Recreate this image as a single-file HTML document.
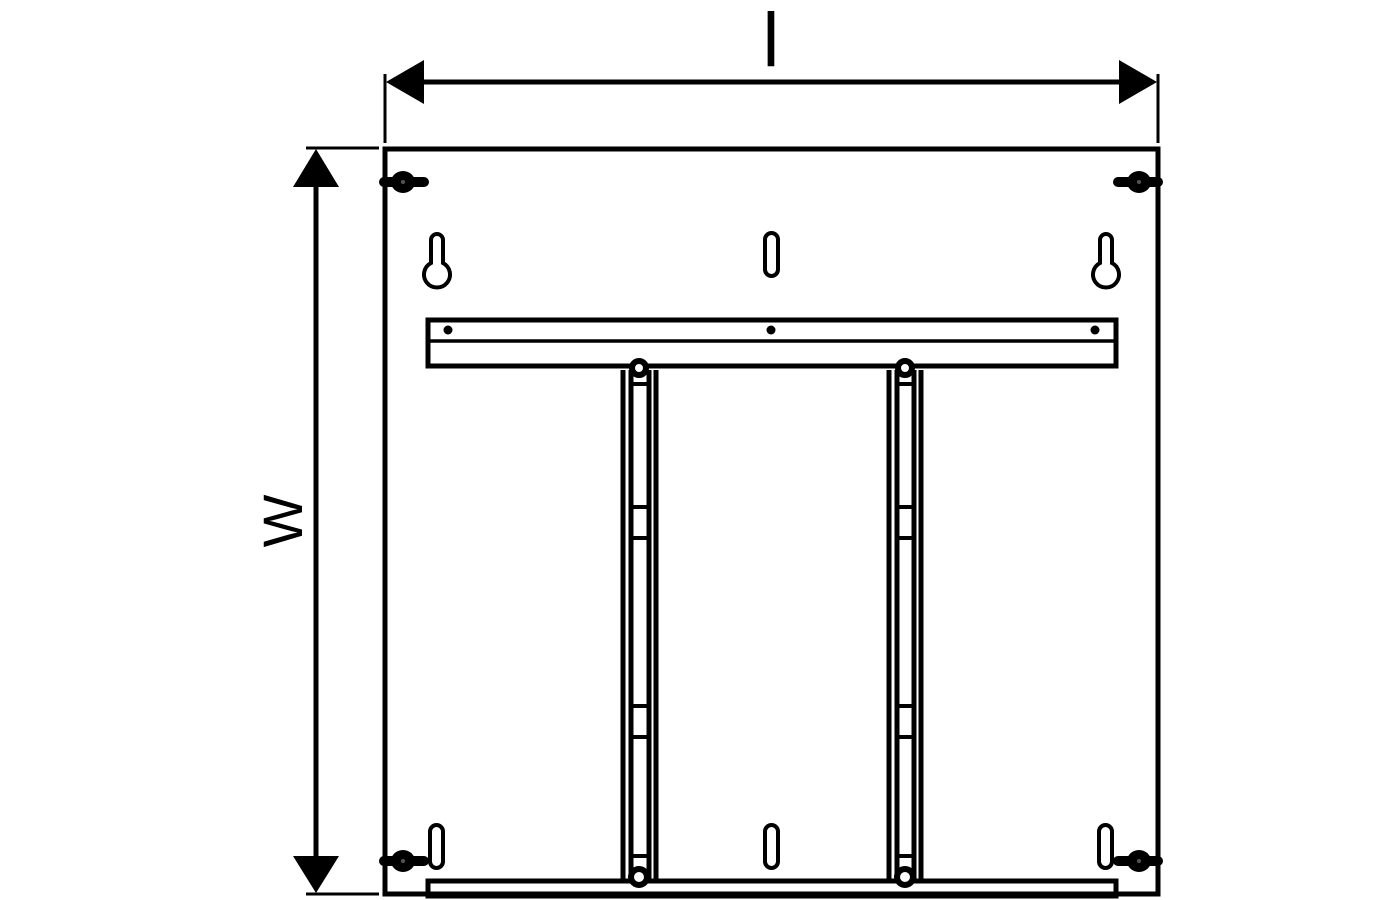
<!DOCTYPE html>
<html><head><meta charset="utf-8"><style>html,body{margin:0;padding:0;background:#fff}svg{display:block}</style></head>
<body>
<svg width="1400" height="900" viewBox="0 0 1400 900" xmlns="http://www.w3.org/2000/svg">
<g stroke="#000" fill="none" stroke-linecap="butt">
<line x1="385" y1="74" x2="385" y2="143" stroke-width="3"/>
<line x1="1158" y1="74" x2="1158" y2="143" stroke-width="3"/>
<line x1="420" y1="82" x2="1124" y2="82" stroke-width="5"/>
<polygon points="386,82 424,60 424,104" fill="#000" stroke="none"/>
<polygon points="1157,82 1119,60 1119,104" fill="#000" stroke="none"/>
<line x1="306" y1="148" x2="379" y2="148" stroke-width="3"/>
<line x1="306" y1="894" x2="379" y2="894" stroke-width="3"/>
<line x1="316" y1="180" x2="316" y2="862" stroke-width="5"/>
<polygon points="316,149 293,187 339,187" fill="#000" stroke="none"/>
<polygon points="316,893 293,856 339,856" fill="#000" stroke="none"/>
<rect x="385" y="149" width="773" height="745" stroke-width="5"/>
<rect x="428" y="320" width="688" height="46" stroke-width="5"/>
<line x1="428" y1="341" x2="1116" y2="341" stroke-width="3.5"/>
<circle cx="448" cy="330" r="4.5" fill="#000" stroke="none"/>
<circle cx="771" cy="330" r="4.5" fill="#000" stroke="none"/>
<circle cx="1095" cy="330" r="4.5" fill="#000" stroke="none"/>
<rect x="428" y="881" width="688" height="15" stroke-width="5"/>
<path d="M431,263 L431,240 A6,6 0 0 1 443,240 L443,263 A13,13 0 1 1 431,263 Z" stroke-width="4"/>
<path d="M1100,263 L1100,240 A6,6 0 0 1 1112,240 L1112,263 A13,13 0 1 1 1100,263 Z" stroke-width="4"/>
<rect x="765" y="233" width="13" height="43" rx="6.5" stroke-width="4"/>
<rect x="430" y="825" width="13" height="43" rx="6.5" stroke-width="4"/>
<rect x="765" y="825" width="13" height="43" rx="6.5" stroke-width="4"/>
<rect x="1099" y="825" width="13" height="43" rx="6.5" stroke-width="4"/>
<g stroke-width="5">
<line x1="623" y1="370" x2="623" y2="880"/><line x1="631" y1="370" x2="631" y2="880"/>
<line x1="649" y1="370" x2="649" y2="880"/><line x1="656" y1="370" x2="656" y2="880"/>
<line x1="889" y1="370" x2="889" y2="880"/><line x1="897" y1="370" x2="897" y2="880"/>
<line x1="914" y1="370" x2="914" y2="880"/><line x1="921" y1="370" x2="921" y2="880"/>
</g>
<g stroke-width="4">
<line x1="631" y1="384" x2="649" y2="384"/><line x1="631" y1="507" x2="649" y2="507"/><line x1="631" y1="538" x2="649" y2="538"/>
<line x1="631" y1="706" x2="649" y2="706"/><line x1="631" y1="737" x2="649" y2="737"/><line x1="631" y1="856" x2="649" y2="856"/>
<line x1="897" y1="384" x2="914" y2="384"/><line x1="897" y1="507" x2="914" y2="507"/><line x1="897" y1="538" x2="914" y2="538"/>
<line x1="897" y1="706" x2="914" y2="706"/><line x1="897" y1="737" x2="914" y2="737"/><line x1="897" y1="856" x2="914" y2="856"/>
</g>
<g fill="#fff" stroke-width="6">
<circle cx="639" cy="368" r="7"/><circle cx="905" cy="368" r="7"/>
<circle cx="639" cy="877" r="8"/><circle cx="905" cy="877" r="8"/>
</g>
</g>
<g fill="#000">
<g transform="translate(403,182)"><rect x="-24" y="-5" width="50" height="10" rx="5"/><ellipse cx="0" cy="0" rx="12" ry="11"/><circle cx="0" cy="0" r="2" fill="#555"/></g>
<g transform="translate(1139,182)"><rect x="-26" y="-5" width="50" height="10" rx="5"/><ellipse cx="0" cy="0" rx="12" ry="11"/><circle cx="0" cy="0" r="2" fill="#555"/></g>
<g transform="translate(403,861)"><rect x="-24" y="-5" width="50" height="10" rx="5"/><ellipse cx="0" cy="0" rx="12" ry="11"/><circle cx="0" cy="0" r="2" fill="#555"/></g>
<g transform="translate(1139,861)"><rect x="-26" y="-5" width="50" height="10" rx="5"/><ellipse cx="0" cy="0" rx="12" ry="11"/><circle cx="0" cy="0" r="2" fill="#555"/></g>
</g>
<text x="771" y="66" font-family="Liberation Sans, sans-serif" font-size="76" text-anchor="middle" fill="#000">l</text>
<text transform="translate(302,521) rotate(-90)" font-family="Liberation Sans, sans-serif" font-size="56" text-anchor="middle" fill="#000">W</text>
</svg>
</body></html>
